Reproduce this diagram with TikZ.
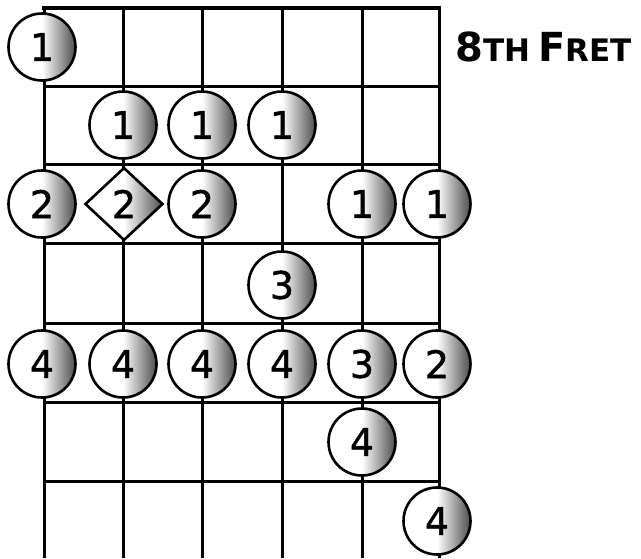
\documentclass[tikz,border=0pt]{standalone}
\usepackage{fontspec}
\setmainfont{DejaVu Sans}
\newfontfamily\dotfont[FakeBold=1.2]{DejaVu Sans}
\usetikzlibrary{shapes.geometric}
\begin{document}
\begin{tikzpicture}[x=1pt,y=-1pt,
  fretline/.style={line width=3pt},
  nutline/.style={line width=4.5pt},
  stringline/.style={line width=3pt},
  dot/.style={circle, draw, line width=2.6pt, minimum size=67pt, inner sep=0pt,
    left color=white, right color=black!70, middle color=white,
    font=\dotfont\fontsize{38}{38}\selectfont},
  dia/.style={diamond, draw, line width=2.6pt, minimum width=78pt, minimum height=73pt, inner sep=0pt,
    left color=white, right color=black!70, middle color=white,
    font=\dotfont\fontsize{38}{38}\selectfont},
  lbl/.style={font=\bfseries}
]
\useasboundingbox (0,0) rectangle (641,558);
% strings
\foreach \x in {44,123,202,282,362,439}
  \draw[stringline] (\x,8) -- (\x,558);
% frets
\draw[nutline] (42,8) -- (441,8);
\foreach \y in {86,164,243,323,402,481}
  \draw[fretline] (44,\y) -- (439,\y);
% dots
\node[dot] (a1) at (42,47) {1};
\node[dot] (b2) at (123,125) {1};
\node[dot] (b3) at (202,125) {1};
\node[dot] (b4) at (282,125) {1};
\node[dot] (c1) at (42,204) {2};
\node[dia] (c2) at (124,204) {2};
\node[dot] (c3) at (202,204) {2};
\node[dot] (c5) at (362,204) {1};
\node[dot] (c6) at (437,204) {1};
\node[dot] (d4) at (282,285) {3};
\node[dot] (e1) at (42,364) {4};
\node[dot] (e2) at (123,364) {4};
\node[dot] (e3) at (202,364) {4};
\node[dot] (e4) at (282,364) {4};
\node[dot] (e5) at (362,364) {3};
\node[dot] (e6) at (437,364) {2};
\node[dot] (f5) at (362,442) {4};
\node[dot] (g6) at (437,521) {4};
% label
\node[lbl, anchor=west] (fret) at (452,47) {{\fontsize{40}{40}\selectfont 8}{\fontsize{31}{31}\selectfont TH}\hspace{8pt}{\fontsize{40}{40}\selectfont F}{\fontsize{31}{31}\selectfont RET}};
\end{tikzpicture}
\end{document}
